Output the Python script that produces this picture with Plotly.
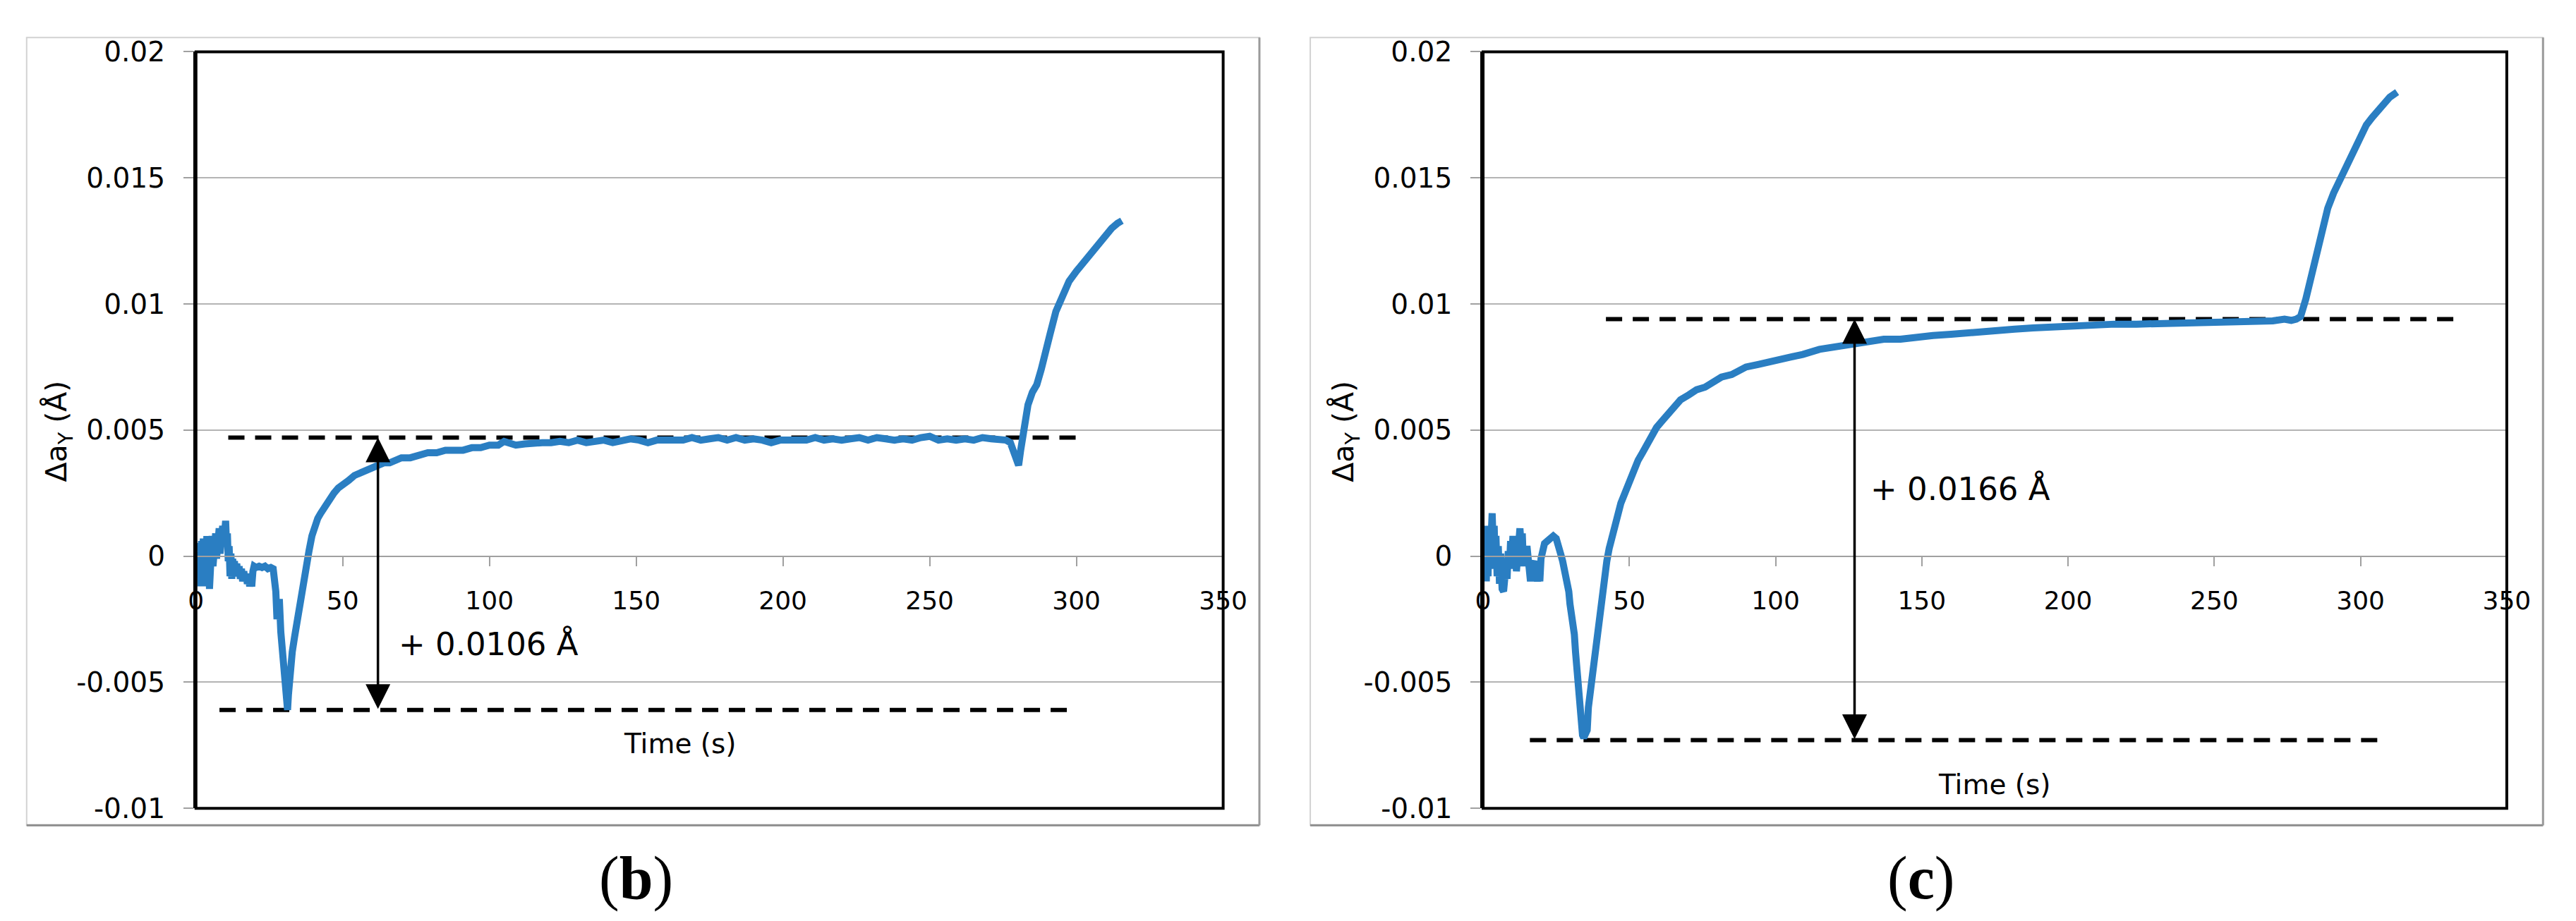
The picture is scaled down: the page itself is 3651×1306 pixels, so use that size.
import plotly.graph_objects as go

W, H = 3651, 1306

# ---------------- data : panel (b) ----------------
b_time = [0.8, 1.0, 1.3, 1.6, 1.9, 2.2, 2.5, 2.8, 3.1, 3.4, 3.7, 4.0, 4.3, 4.6, 4.9, 5.2, 5.5, 5.8,
          6.1, 6.4, 6.7, 7.0, 7.3, 7.6, 7.9, 8.2, 8.5, 8.8, 9.1, 9.4, 9.7, 10.1, 10.4, 10.7, 11.0,
          11.3, 11.6, 11.9, 12.2, 12.5, 12.8, 13.1, 13.5, 13.9, 14.3, 14.7, 15.1, 15.5, 15.9, 16.3,
          16.7, 17.1, 17.5, 17.9, 18.3, 18.7, 19.0, 19.4, 19.8, 20.5, 21.5, 22.5, 23.5, 24.5, 25.5,
          26.3, 26.8, 27.2, 27.6, 28.0, 28.4, 28.9, 29.4, 29.9, 30.4, 30.9, 31.2, 31.5, 31.8, 32.2,
          32.8, 33.6, 34.5, 35.5, 36.5, 37.5, 38.5, 39.5, 40.5, 41.5, 42.5, 44, 45.5, 47, 48.5, 50,
          52, 54, 56, 58, 60, 62, 64, 66, 68, 70, 73, 76, 79, 82, 85, 88, 91, 94, 97, 100, 103,
          105, 107, 109, 112, 115, 118, 121, 124, 127, 130, 133, 136, 139, 142, 145, 148, 151, 154,
          157, 160, 163, 166, 169, 172, 175, 178, 181, 184, 187, 190, 193, 196, 199, 202, 205, 208,
          211, 214, 217, 220, 223, 226, 229, 232, 235, 238, 241, 244, 247, 250, 253, 256, 259, 262,
          265, 268, 271, 274, 276, 277.5, 278.5, 279.5, 280.3, 281, 282, 283.5, 285, 286.5, 288,
          289.5, 291, 293, 295, 297.5, 300, 302, 304, 306, 308, 310, 312, 314, 315.5]
b_da = [0.0002, -0.0011, 0.0005, -0.0012, 0.0006, -0.0010, 0.0007, -0.0012, 0.0004, -0.0009,
        0.0008, -0.0011, 0.0006, -0.0013, 0.0005, -0.0007, 0.0008, -0.0004, 0.0009, -0.0003,
        0.0009, -0.0001, 0.0010, 0.0000, 0.0011, 0.0001, 0.0012, 0.0003, 0.0012, 0.0004, 0.0013,
        0.0014, 0.0005, 0.0009, -0.0002, 0.0004, -0.0008, 0.0001, -0.0009, -0.0001, -0.0007,
        -0.0002, -0.0008, -0.0003, -0.0008, -0.0004, -0.0009, -0.0005, -0.0010, -0.0006, -0.0010,
        -0.0007, -0.0011, -0.0008, -0.0012, -0.0009, -0.0012, -0.0006, -0.0004, -0.00045, -0.0004,
        -0.00045, -0.0004, -0.0005, -0.00045, -0.0005, -0.0009, -0.0014, -0.0025, -0.0019, -0.0017,
        -0.0030, -0.0039, -0.0046, -0.0054, -0.0059, -0.0061, -0.0055, -0.0048, -0.0043, -0.0038,
        -0.0032, -0.0025, -0.0018, -0.0011, -0.0004, 0.0002, 0.0008, 0.0012, 0.0015, 0.0017,
        0.0020, 0.0023, 0.0025, 0.0027, 0.0028, 0.0030, 0.0032, 0.0033, 0.0034, 0.0035, 0.0036,
        0.0037, 0.0037, 0.0038, 0.0039, 0.0039, 0.0040, 0.0041, 0.0041, 0.0042, 0.0042, 0.0042,
        0.0043, 0.0043, 0.0044, 0.0044, 0.00455, 0.0045, 0.0044, 0.00445, 0.0045, 0.0045, 0.0045,
        0.00455, 0.0045, 0.0046, 0.0045, 0.00455, 0.0046, 0.0045, 0.0046, 0.00465, 0.0046, 0.0045,
        0.0046, 0.0046, 0.00465, 0.0046, 0.0047, 0.0046, 0.00465, 0.0047, 0.0046, 0.0047, 0.0046,
        0.00465, 0.0046, 0.0045, 0.0046, 0.0046, 0.00465, 0.0046, 0.0047, 0.0046, 0.00465, 0.0046,
        0.00465, 0.0047, 0.0046, 0.0047, 0.00465, 0.0046, 0.00465, 0.0046, 0.0047, 0.00475, 0.0046,
        0.00465, 0.0046, 0.00465, 0.0046, 0.0047, 0.00465, 0.0046, 0.0046, 0.0045, 0.0042, 0.0038,
        0.0036, 0.0042, 0.0050, 0.0060, 0.0065, 0.0068, 0.0074, 0.0082, 0.0088, 0.0097, 0.0103,
        0.0109, 0.0113, 0.0116, 0.0119, 0.0122, 0.0125, 0.0127, 0.0130, 0.0132, 0.0133]
b_upper_level = 0.0047
b_upper_span = [11, 300]
b_lower_level = -0.0061
b_lower_span = [8, 297]
b_arrow_time = 62
b_change_text = "+ 0.0106 Å"
b_panel_label = "(<b>b</b>)"

# ---------------- data : panel (c) ----------------
c_time = [0.8, 1.1, 1.4, 1.7, 2.0, 2.3, 2.7, 3.1, 3.5, 3.8, 4.1, 4.4, 4.8, 5.2, 5.6, 6.0, 6.5, 7.0,
          7.4, 7.8, 8.2, 8.6, 9.0, 9.4, 9.8, 10.2, 10.6, 11.0, 11.4, 11.8, 12.2, 12.6, 13.0, 13.4,
          13.8, 14.2, 14.6, 15.0, 15.4, 15.8, 16.2, 16.6, 17.0, 17.4, 17.8, 18.2, 18.6, 19.0, 19.4,
          19.8, 20.3, 21, 22, 23, 24, 25, 25.7, 26.5, 27.2, 28, 28.8, 29.3, 29.7, 30.2, 30.7, 31.2,
          31.6, 32.0, 32.4, 32.8, 33.2, 33.6, 34.0, 34.4, 34.8, 35.2, 35.6, 36.0, 36.8, 37.6, 38.6,
          39.6, 40.5, 41.5, 42.3, 43.1, 44.1, 45.1, 46.1, 47.1, 48.5, 50, 51.5, 53, 54.5, 56, 57.5,
          59.3, 61.5, 64.8, 67.5, 70.4, 73, 75.9, 78.5, 81.5, 85, 89.9, 94, 98.2, 104, 109.3, 115,
          120.5, 126, 131.6, 137, 142.7, 148, 153.8, 160, 167.8, 175, 181.7, 188, 195.6, 202, 209.5,
          216, 223.4, 230, 237.3, 244, 251.2, 258, 265.1, 270, 274, 276.3, 278, 279.5, 281.3, 283.2,
          284.6, 286, 287.4, 288.8, 290.8, 292.9, 295.7, 297.8, 299.9, 302, 304, 306.1, 308.2, 310,
          312.5]
c_da = [0.0, -0.0010, 0.0012, -0.0008, 0.0010, -0.0005, 0.0016, 0.0017, 0.0003, 0.0012, -0.0004,
        0.0008, -0.0008, 0.0004, -0.0011, 0.0001, -0.0013, -0.0014, -0.0009, -0.0003, -0.0009,
        0.0002, -0.0005, 0.0006, -0.0002, 0.0008, -0.0003, 0.0002, -0.0006, 0.0005, 0.0, 0.0011,
        0.0004, 0.0009, -0.0004, 0.0002, -0.0001, 0.0004, -0.0002, -0.0006, -0.0010, -0.0004,
        -0.0008, -0.0003, -0.0002, -0.0007, -0.0010, -0.0006, -0.0010, -0.0001, 0.0004, 0.0005,
        0.0006, 0.0007, 0.0008, 0.0007, 0.0005, 0.0001, -0.0002, -0.0006, -0.0011, -0.0014,
        -0.0019, -0.0022, -0.0028, -0.0031, -0.0038, -0.0045, -0.0052, -0.0058, -0.0064, -0.0070,
        -0.0071, -0.0072, -0.0070, -0.0071, -0.0069, -0.0060, -0.0052, -0.0044, -0.0035, -0.0026,
        -0.0017, -0.0008, -0.0002, 0.0003, 0.0008, 0.0012, 0.0017, 0.0021, 0.0025, 0.0030, 0.0034,
        0.0038, 0.0041, 0.0044, 0.0047, 0.0051, 0.0054, 0.0059, 0.0062, 0.0064, 0.0066, 0.0067,
        0.0069, 0.0071, 0.0072, 0.0075, 0.0076, 0.0077, 0.0079, 0.0080, 0.0082, 0.0083, 0.0084,
        0.0085, 0.0086, 0.0086, 0.0087, 0.00875, 0.0088, 0.00885, 0.0089, 0.0090, 0.00905, 0.0091,
        0.00912, 0.00915, 0.0092, 0.0092, 0.00922, 0.00924, 0.00925, 0.00926, 0.0093, 0.00931,
        0.00933, 0.0094, 0.00935, 0.0094, 0.0095, 0.0102, 0.0111, 0.0118, 0.0124, 0.0131, 0.0138,
        0.0144, 0.0149, 0.0156, 0.0162, 0.0167, 0.0171, 0.0174, 0.0177, 0.0180, 0.0182, 0.0184]
c_upper_level = 0.0094
c_upper_span = [42, 332]
c_lower_level = -0.0073
c_lower_span = [16, 307]
c_arrow_time = 127
c_change_text = "+ 0.0166 Å"
c_panel_label = "(<b>c</b>)"

# ---------------- axes ----------------
x_ticks = [0, 50, 100, 150, 200, 250, 300, 350]
y_ticks = [-0.01, -0.005, 0, 0.005, 0.01, 0.015, 0.02]
y_tick_labels = ["-0.01", "-0.005", "0", "0.005", "0.01", "0.015", "0.02"]
x_title = "Time (s)"
y_title = "Δa<sub>Y</sub> (Å)"
x_range = [0, 350]
y_range = [-0.01, 0.02]

# ---------------- layout constants (pixels) ----------------
PLOT_TOP, PLOT_BOTTOM = 45, 1156
PANELS = [
    dict(left=262, right=1736, frame=(19, 24, 1788, 1181), label_x=894),
    dict(left=2109, right=3578, frame=(1861, 24, 3630, 1181), label_x=2737),
]
FONT = "DejaVu Sans"
BLUE = "#2A7EC2"
GRID = "#B4B4B4"


def px_x(p):
    return p / W


def px_y(p):
    return 1 - p / H


fig = go.Figure()

panels = [
    dict(t=b_time, v=b_da, up=b_upper_level, ups=b_upper_span, lo=b_lower_level, los=b_lower_span,
         arrow=b_arrow_time, text=b_change_text, text_x=68.5, text_y=-0.0035,
         title_x=165, title_y=-0.00745, label=b_panel_label),
    dict(t=c_time, v=c_da, up=c_upper_level, ups=c_upper_span, lo=c_lower_level, los=c_lower_span,
         arrow=c_arrow_time, text=c_change_text, text_x=132, text_y=0.00265,
         title_x=175, title_y=-0.00907, label=c_panel_label),
]

annotations = []
shapes = []
layout_axes = {}

for i, (p, geo) in enumerate(zip(panels, PANELS)):
    sfx = "" if i == 0 else str(i + 1)
    xa, ya = "x" + sfx, "y" + sfx
    ydom = [px_y(PLOT_BOTTOM), px_y(PLOT_TOP)]
    xdom = [px_x(geo["left"]), px_x(geo["right"])]
    zero_pos = ydom[0] + (0 - y_range[0]) / (y_range[1] - y_range[0]) * (ydom[1] - ydom[0])

    # dashed reference levels
    for span, lvl in ((p["ups"], p["up"]), (p["los"], p["lo"])):
        fig.add_trace(go.Scatter(x=span, y=[lvl, lvl], mode="lines", xaxis=xa, yaxis=ya,
                                 line=dict(color="black", width=6, dash="23px,15px"),
                                 showlegend=False, hoverinfo="skip"))
    # measured curve
    fig.add_trace(go.Scatter(x=p["t"], y=p["v"], mode="lines", xaxis=xa, yaxis=ya,
                             line=dict(color=BLUE, width=10), showlegend=False))

    layout_axes["xaxis" + sfx] = dict(
        domain=xdom, range=x_range, anchor="free", position=zero_pos,
        tickvals=x_ticks, ticktext=[str(v) for v in x_ticks],
        showgrid=False, zeroline=False, showline=True, linecolor="#A0A0A0", linewidth=2,
        ticks="outside", ticklen=13, tickwidth=2, tickcolor="#A0A0A0",
        ticklabelstandoff=18, tickfont=dict(family=FONT, size=36, color="black"),
        fixedrange=True,
    )
    layout_axes["yaxis" + sfx] = dict(
        domain=ydom, range=y_range, anchor=xa,
        tickvals=y_ticks, ticktext=y_tick_labels,
        showgrid=True, gridcolor=GRID, gridwidth=2, zeroline=False,
        showline=True, linecolor="black", linewidth=4,
        ticks="outside", ticklen=14, tickwidth=2, tickcolor="#A0A0A0",
        ticklabelstandoff=18, tickfont=dict(family=FONT, size=39, color="black"),
        fixedrange=True,
    )

    # plot frame
    shapes.append(dict(type="rect", xref=xa + " domain", yref=ya + " domain", x0=0, x1=1, y0=0, y1=1,
                       line=dict(color="black", width=4), layer="above"))
    # outer chart frame
    fx0, fy0, fx1, fy1 = geo["frame"]
    shapes.append(dict(type="rect", xref="paper", yref="paper", x0=px_x(fx0), x1=px_x(fx1),
                       y0=px_y(fy1), y1=px_y(fy0), line=dict(color="#D2D2D2", width=2)))
    shapes.append(dict(type="line", xref="paper", yref="paper", x0=px_x(fx0), x1=px_x(fx1),
                       y0=px_y(fy1), y1=px_y(fy1), line=dict(color="#8C8C8C", width=3)))
    shapes.append(dict(type="line", xref="paper", yref="paper", x0=px_x(fx1), x1=px_x(fx1),
                       y0=px_y(fy1), y1=px_y(fy0), line=dict(color="#9A9A9A", width=3)))

    # double-headed arrow
    annotations.append(dict(x=p["arrow"], y=p["up"], ax=p["arrow"], ay=p["lo"],
                            xref=xa, yref=ya, axref=xa, ayref=ya, text="", showarrow=True,
                            arrowside="end+start", arrowhead=2, arrowsize=2.0, arrowwidth=3.5,
                            arrowcolor="black"))
    # change label
    annotations.append(dict(x=p["text_x"], y=p["text_y"], xref=xa, yref=ya, text=p["text"],
                            showarrow=False, xanchor="left", yanchor="middle",
                            font=dict(family=FONT, size=45, color="black")))
    # x title (inside plot, Excel style)
    annotations.append(dict(x=p["title_x"], y=p["title_y"], xref=xa, yref=ya, text=x_title,
                            showarrow=False, xanchor="center", yanchor="middle",
                            font=dict(family=FONT, size=39, color="black")))
    # y title
    annotations.append(dict(x=px_x(geo["left"] - 197), y=px_y(602), xref="paper", yref="paper",
                            text=y_title, textangle=-90, showarrow=False,
                            xanchor="center", yanchor="middle",
                            font=dict(family=FONT, size=41, color="black")))
    # panel label
    annotations.append(dict(x=px_x(geo["label_x"]), y=px_y(1258), xref="paper", yref="paper",
                            text=p["label"], showarrow=False, xanchor="center", yanchor="middle",
                            font=dict(family="Liberation Serif", size=86, color="black")))

fig.update_layout(
    width=W, height=H,
    margin=dict(l=0, r=0, t=0, b=0, pad=0),
    paper_bgcolor="white", plot_bgcolor="white",
    shapes=shapes, annotations=annotations,
    showlegend=False,
    **layout_axes,
)

fig.write_html("out.html", config={"displayModeBar": False})
